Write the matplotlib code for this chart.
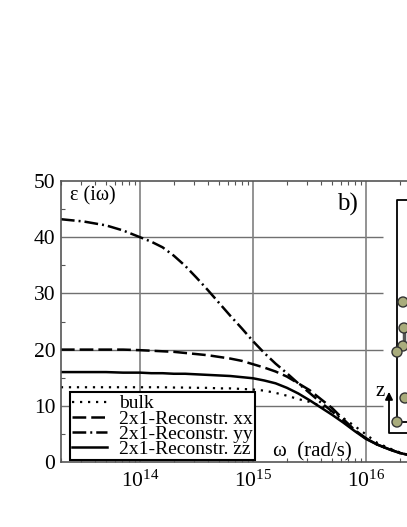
import numpy as np
import matplotlib
matplotlib.use("Agg")
import matplotlib.pyplot as plt
from matplotlib.patches import Circle

plt.rcParams["font.family"] = "Liberation Serif"
plt.rcParams["mathtext.fontset"] = "custom"
plt.rcParams["mathtext.rm"] = "Liberation Serif"
plt.rcParams["mathtext.it"] = "Liberation Serif:italic"

# log10 of omega
log_omega = [13.3, 13.5, 13.7, 13.85, 14.0, 14.1, 14.2, 14.3, 14.4, 14.5, 14.6, 14.7, 14.8, 14.9, 15.0, 15.1, 15.2, 15.3, 15.4, 15.5, 15.6, 15.7, 15.8, 15.9, 16.0, 16.1, 16.2, 16.3, 16.4]

bulk = [13.3, 13.3, 13.3, 13.3, 13.3, 13.3, 13.3, 13.25, 13.25, 13.2, 13.2, 13.1, 13.1, 13.0, 12.9, 12.7, 12.3, 11.8, 11.2, 10.7, 10.0, 9.0, 7.8, 6.4, 4.9, 3.4, 2.5, 1.7, 1.15]
eps_xx = [20.0, 20.0, 20.0, 20.0, 19.9, 19.8, 19.7, 19.6, 19.4, 19.2, 19.0, 18.7, 18.4, 18.0, 17.4, 16.8, 16.1, 15.2, 14.0, 12.8, 11.2, 9.6, 7.6, 5.7, 4.2, 3.1, 2.3, 1.6, 1.15]
eps_yy = [43.2, 42.8, 42.1, 41.2, 40.0, 39.2, 38.2, 36.7, 34.9, 32.8, 30.6, 28.3, 26.0, 23.8, 21.5, 19.4, 17.5, 15.8, 14.0, 12.3, 10.6, 9.0, 7.3, 5.6, 4.2, 3.1, 2.3, 1.6, 1.15]
eps_zz = [16.0, 16.0, 16.0, 15.9, 15.9, 15.8, 15.8, 15.7, 15.7, 15.6, 15.5, 15.4, 15.3, 15.1, 14.9, 14.5, 14.0, 13.2, 12.2, 11.0, 9.7, 8.4, 7.0, 5.5, 4.1, 3.1, 2.3, 1.6, 1.15]

y_ticks = [0, 10, 20, 30, 40, 50]
x_ticks = [1e14, 1e15, 1e16]

fig = plt.figure(figsize=(4.07, 5.27), dpi=100)
ax = fig.add_axes([61 / 407, 65 / 527, 418 / 407, 281 / 527])

omega = 10.0 ** np.array(log_omega)
ax.plot(omega, bulk, color="black", linewidth=1.6, linestyle=(0, (1, 2.6)), label="bulk")
ax.plot(omega, eps_xx, color="black", linewidth=1.8, linestyle=(0, (5.5, 2)), label="2x1-Reconstr. xx")
ax.plot(omega, eps_yy, color="black", linewidth=1.8, linestyle=(0, (5.5, 1.6, 0.8, 1.6)), label="2x1-Reconstr. yy")
ax.plot(omega, eps_zz, color="black", linewidth=1.8, label="2x1-Reconstr. zz")

ax.set_xscale("log")
ax.set_xlim(2e13, 1e17)
ax.set_ylim(0, 50)
ax.set_yticks(y_ticks)
ax.set_yticks([5, 15, 25, 35, 45], minor=True)
ax.set_xticks(x_ticks)

# grid stops short of the inset
grid_end = 10 ** (14 + (383 - 140) / 113)
ax.hlines([10, 20, 30, 40], 2e13, grid_end, color="#707070", linewidth=1, zorder=1)
ax.axvline(1e14, color="#808080", linewidth=1.2, zorder=1)
ax.axvline(1e15, color="#808080", linewidth=1.2, zorder=1)
ax.axvline(1e16, color="#808080", linewidth=1.2, zorder=1)

for s in ax.spines.values():
    s.set_color("#555555")
    s.set_linewidth(1.2)
ax.tick_params(which="major", direction="in", top=True, length=0, labelsize=15.5, pad=4)
ax.tick_params(which="minor", direction="in", top=True, length=3, width=0.8, color="#555555")
ax.tick_params(axis="x", which="major", pad=6)
ax.xaxis.set_minor_locator(matplotlib.ticker.LogLocator(base=10, subs=np.arange(2, 10), numticks=12))
ax.xaxis.set_minor_formatter(matplotlib.ticker.NullFormatter())

leg = ax.legend(loc="lower left", bbox_to_anchor=(9 / 418, 2 / 281), fontsize=14, frameon=True, fancybox=False,
                framealpha=1, edgecolor="black", borderpad=0.12, labelspacing=-0.13, handlelength=1.8,
                handletextpad=0.6, borderaxespad=0)
leg.get_frame().set_linewidth(1.5)
leg.set_zorder(5)

# overlay in pixel coordinates for text and inset
ov = fig.add_axes([0, 0, 1, 1], facecolor="none")
ov.set_xlim(0, 407)
ov.set_ylim(527, 0)
ov.axis("off")

ov.text(70, 196, "ε (iω)", fontsize=14.5, va="center", ha="left")
ov.text(337, 204, "b)", fontsize=18, va="center", ha="left")
ov.text(273, 452, "ω  (rad/s)", fontsize=15, va="center", ha="left")

# inset structure
ov.plot([397, 397, 407], [422, 200, 200], color="black", linewidth=1.3)
ov.plot([397, 407], [422, 422], color="black", linewidth=1.3)
ov.plot([389, 389, 407], [396, 433, 433], color="black", linewidth=1.3)
ov.annotate("", xy=(389, 389), xytext=(389, 400), arrowprops=dict(arrowstyle="-|>", color="black", lw=1.3, mutation_scale=11))
ov.text(376, 391, "z", fontsize=15, va="center", ha="left")
ov.plot([404, 404], [330, 345], color="#555555", linewidth=2.5)

atom_x = [403, 404, 403, 397, 405, 397]
atom_y = [302, 328, 346, 352, 398, 422]
for x, y in zip(atom_x, atom_y):
    ov.add_patch(Circle((x, y), 5, facecolor="#a9ac7c", edgecolor="#333333", linewidth=1, zorder=4))

fig.savefig("out.png", dpi=100)
